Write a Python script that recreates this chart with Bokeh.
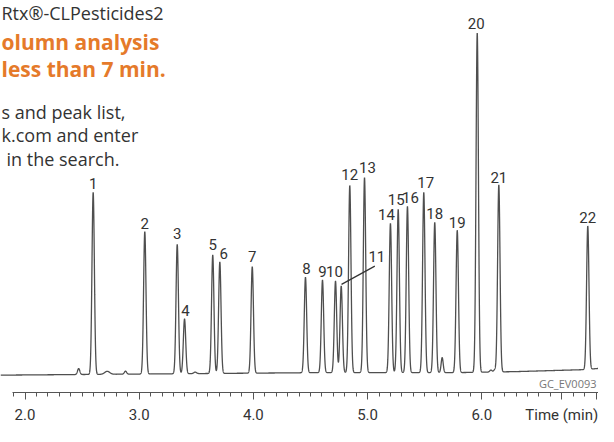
import numpy as np
from bokeh.plotting import figure
from bokeh.models import Range1d, FixedTicker, Label, ColumnDataSource, PrintfTickFormatter
from bokeh.core.properties import value
from bokeh.embed import file_html
from bokeh.resources import INLINE

# ---------------- data ----------------
peak_labels = ["1", "2", "3", "4", "5", "6", "7", "8", "9", "10", "11",
               "12", "13", "14", "15", "16", "17", "18", "19", "20", "21", "22"]
peak_times = [2.597, 3.049, 3.333, 3.397, 3.644, 3.706, 3.990, 4.456, 4.605,
              4.719, 4.769, 4.844, 4.973, 5.200, 5.268, 5.349, 5.492, 5.588,
              5.785, 5.960, 6.149, 6.928]
peak_heights = [183, 143, 130, 55, 119, 112, 107, 96, 93, 92, 87, 188, 196,
                150, 164, 167, 181, 151, 143, 341, 188, 144]
peak_sigma = 0.0105

minor_times = [2.470, 2.720, 2.880, 3.490, 5.653, 6.080, 6.115]
minor_heights = [6, 3, 3, 1.5, 15, 2, 2.5]
minor_sigmas = [0.010, 0.022, 0.010, 0.012, 0.009, 0.010, 0.010]

baseline_times = [1.85, 3.5, 4.6, 5.8, 6.3, 6.9, 7.1]
baseline_levels = [-0.5, 1, 2, 2, 3, 5, 7]

major_ticks = [2, 3, 4, 5, 6, 7]
minor_ticks = [round(1.9 + 0.1 * i, 1) for i in range(53)]
axis_title = "Time (min)"
axis_title_at = 6.7          # the title sits in the tick-label row, near the end
figure_code = "GC_EV0093"

# ---------------- layout helpers (pixels) ----------------
PX_PER_MIN = 114.2
W, H = 598, 426
AXIS_Y = 394          # pixel row of the time axis line
BASE_SHIFT = 0.34     # empirical baseline correction (fraction of font size)
LABEL_SIZE = 15
label_dx_px = [0, 0, 0, 1, 0, 4, 0, 1, 0, -1, 35.6, 0, 3, -4, -2, 3, 2, 0, 0, -1, 0, 0]
label_gap_px = [4, 3, 6, 3, 6, 3, 5, 4, 4, 5, 25, 6, 5, 4, 5, 4, 5, 4, 3, 4, 2.5, 4]

def px_to_t(px):
    return 2 + (px - 24.5) / PX_PER_MIN

def py_to_y(py):
    return 376 - py

# ---------------- build trace ----------------
t = np.arange(px_to_t(0), px_to_t(W) + 0.001, 0.0005)
signal = np.interp(t, baseline_times, baseline_levels)
for pt, ph in zip(peak_times, peak_heights):
    signal = signal + ph * np.exp(-0.5 * ((t - pt) / peak_sigma) ** 2)
for pt, ph, ps in zip(minor_times, minor_heights, minor_sigmas):
    signal = signal + ph * np.exp(-0.5 * ((t - pt) / ps) ** 2)

p = figure(width=W, height=H,
           x_range=Range1d(px_to_t(0), px_to_t(W)),
           y_range=Range1d(py_to_y(AXIS_Y), py_to_y(0)),
           output_backend="svg", toolbar_location=None,
           y_axis_location=None,
           min_border_left=0, min_border_right=0, min_border_top=0,
           min_border_bottom=H - AXIS_Y)
p.grid.visible = False
p.outline_line_color = None
p.background_fill_color = "white"

p.line(t, signal, line_color="#4f4f4f", line_width=1.3)

# peak labels
base_at_peaks = np.interp(peak_times, baseline_times, baseline_levels)
lab_x = [pt + dx / PX_PER_MIN for pt, dx in zip(peak_times, label_dx_px)]
lab_y = [b + h + g for b, h, g in zip(base_at_peaks, peak_heights, label_gap_px)]
src = ColumnDataSource(dict(x=lab_x, y=[v + BASE_SHIFT * LABEL_SIZE for v in lab_y],
                            text=peak_labels))
p.text(x="x", y="y", text="text", source=src,
       text_font=value("Roboto"), text_font_size=f"{LABEL_SIZE}px",
       text_color="#333333", text_align="center", text_baseline="alphabetic")

# leader line for peak 11
i11 = peak_labels.index("11")
p.segment(x0=[lab_x[i11] - 2 / PX_PER_MIN], y0=[lab_y[i11] - 5],
          x1=[peak_times[i11] + 0.3 / PX_PER_MIN],
          y1=[base_at_peaks[i11] + peak_heights[i11] + 1.7],
          line_color="#333333", line_width=1.2)

# x axis
ax = p.xaxis[0]
ax.ticker = FixedTicker(ticks=major_ticks + [axis_title_at], minor_ticks=minor_ticks)
ax.formatter = PrintfTickFormatter(format="%.1f")
ax.major_label_overrides = {7: "", axis_title_at: axis_title}
ax.bounds = (px_to_t(12), px_to_t(W))
ax.axis_line_color = "#555555"
ax.major_tick_line_color = "#555555"
ax.minor_tick_line_color = "#555555"
ax.major_tick_in = 0
ax.major_tick_out = 7
ax.minor_tick_in = 0
ax.minor_tick_out = 4
ax.major_label_standoff = 6
ax.major_label_text_font = "Roboto"
ax.major_label_text_font_size = "15px"
ax.major_label_text_color = "#333333"

def add_label(text, px, py, align="left", font="Open Sans", size=18,
              color="#333333", style="normal"):
    yb = py - BASE_SHIFT * size
    p.add_layout(Label(x=px_to_t(px), y=py_to_y(yb), text=text,
                       text_align=align, text_baseline="alphabetic",
                       text_font=font, text_font_size=f"{size}px",
                       text_color=color, text_font_style=style))

add_label("Rtx®-CLPesticides2", 1, 19)
add_label("olumn analysis", 1, 49, size=21, color="#e57a2a", style="bold")
add_label("less than 7 min.", 1, 76, size=21, color="#e57a2a", style="bold")
add_label("s and peak list,", 1, 118)
add_label("k.com and enter", 1, 141)
add_label("in the search.", 6, 165)
add_label(figure_code, W - 2, 389, align="right", size=11, color="#777777")

open("out.html", "w").write(file_html(p, INLINE))
